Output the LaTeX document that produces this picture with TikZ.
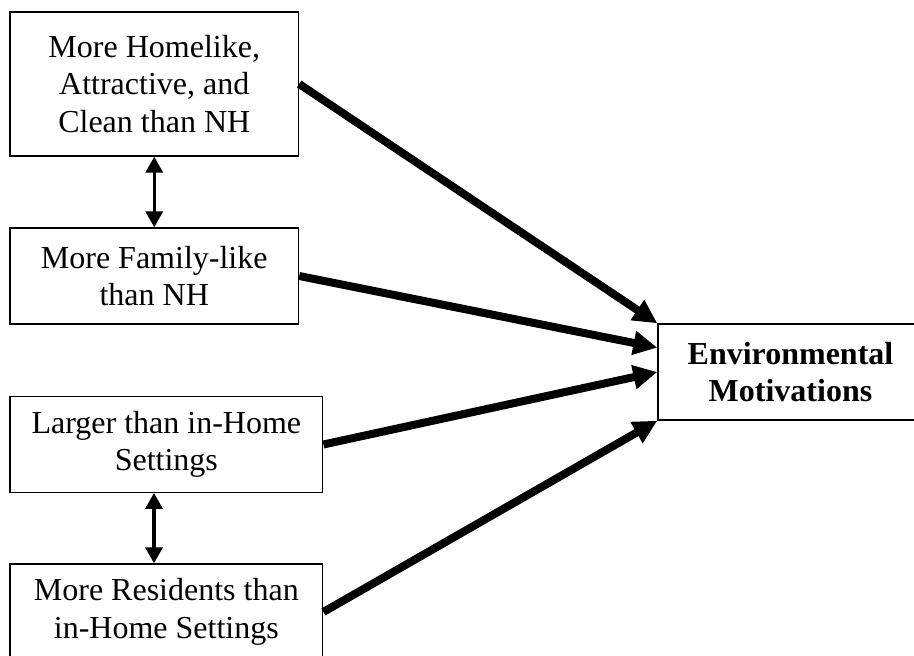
\documentclass[tikz,border=0pt]{standalone}
\usepackage{fontspec}
\setmainfont{Liberation Serif}
\usetikzlibrary{arrows.meta,calc}
\begin{document}
\begin{tikzpicture}[x=1pt,y=-1pt,
  box/.style={draw,line width=1.4pt,inner sep=0pt,align=center,
    font=\fontsize{32}{37.5}\selectfont},
  bigarrow/.style={line width=8pt,-{Triangle[length=24pt,width=23pt]}},
  duo/.style={line width=3.5pt,{Triangle[length=16pt,width=17pt]}-{Triangle[length=16pt,width=17pt]}}]
\useasboundingbox (0,0) rectangle (914,656);
\clip (0,0) rectangle (914,656);
\fill[white] (0,0) rectangle (914,656);
\node[box,minimum width=288.5pt,minimum height=144pt] (b1) at (154.25,84)
  {More Homelike,\\Attractive, and\\Clean than NH};
\node[box,minimum width=288.5pt,minimum height=96pt] (b2) at (154.25,276)
  {More Family-like\\than NH};
\node[box,minimum width=312.7pt,minimum height=95.5pt] (b3) at (166.35,444.5)
  {Larger than in-Home\\Settings};
\node[box,minimum width=312.7pt,minimum height=96pt] (b4) at (166.35,612)
  {More Residents than\\in-Home Settings};
\node[box,minimum width=265pt,minimum height=96pt,font=\fontsize{32}{37.5}\selectfont\bfseries] (b5) at (790.5,372)
  {Environmental\\Motivations};
\coordinate (t2) at ($(b5.north west)!0.25!(b5.south west)$);
\coordinate (s3) at ($(b3.south)+(-12.35,0)$);
\coordinate (n4) at ($(b4.north)+(-12.35,0)$);
\draw[bigarrow] (b1.east) -- (b5.north west);
\draw[bigarrow] (b2.east) -- (t2);
\draw[bigarrow] (b3.east) -- (b5.west);
\draw[bigarrow] (b4.east) -- (b5.south west);
\draw[duo] (b1.south) -- (b2.north);
\draw[duo] (s3) -- (n4);
\end{tikzpicture}
\end{document}
